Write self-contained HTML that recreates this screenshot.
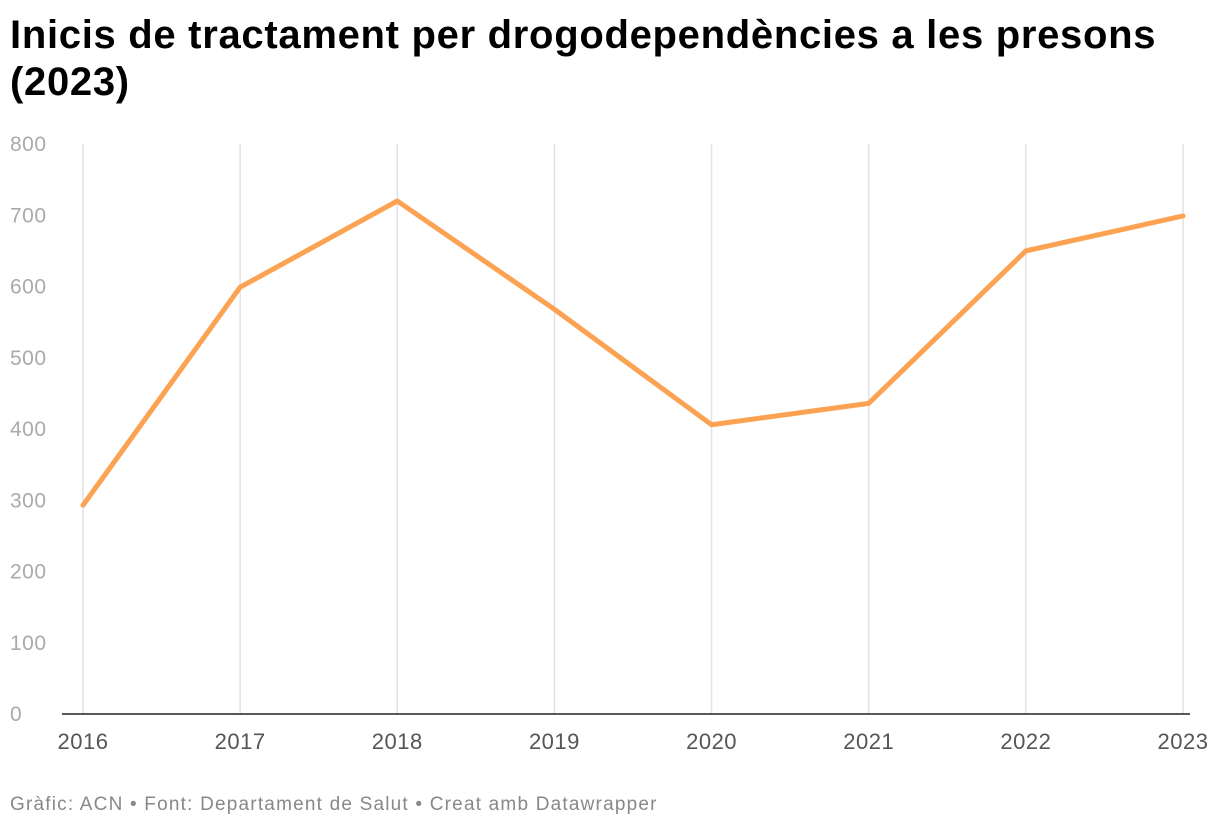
<!DOCTYPE html>
<html><head><meta charset="utf-8"><style>
body{margin:0;background:#fff;width:1220px;height:832px;overflow:hidden;font-family:"Liberation Sans",Arial,sans-serif}
h1{position:absolute;left:10px;top:12px;margin:0;font-size:40px;line-height:47px;font-weight:bold;color:#000;width:1210px;letter-spacing:0.7px}
#foot{position:absolute;left:10px;top:794px;font-size:19px;color:#888;letter-spacing:1.2px}
svg{position:absolute;left:0;top:0}
</style></head><body>
<h1>Inicis de tractament per drogodependències a les presons<br>(2023)</h1>
<svg id="chart" width="1220" height="832"></svg>
<div id="foot">Gràfic: ACN • Font: Departament de Salut • Creat amb Datawrapper</div>
<script>
const years=["2016","2017","2018","2019","2020","2021","2022","2023"];
const values=[293,599,720,568,406,436,650,699];
const yTicks=[0,100,200,300,400,500,600,700,800];
const NS="http://www.w3.org/2000/svg";
const svg=document.getElementById('chart');
const x0=83,x1=1183,yTop=144,yBot=714,yMax=800;
const xs=i=>x0+(x1-x0)*i/(years.length-1);
const ys=v=>yBot-(yBot-yTop)*v/yMax;
function mk(t,a){const e=document.createElementNS(NS,t);for(const k in a)e.setAttribute(k,a[k]);svg.appendChild(e);return e;}
yTicks.forEach(t=>{
  const e=mk('text',{x:10,y:ys(t)+7,'font-size':21,fill:'#aaa','font-family':'Liberation Sans, sans-serif','letter-spacing':0.5});
  e.textContent=t;
  
  
});
years.forEach((y,i)=>{
  const g=mk('line',{x1:xs(i),x2:xs(i),y1:yTop,y2:yBot,stroke:'#e2e2e2','stroke-width':1.5});
  
  
  const t=mk('text',{x:xs(i),y:749,'font-size':22,fill:'#555','text-anchor':'middle','font-family':'Liberation Sans, sans-serif','letter-spacing':0.5});
  t.textContent=y;
  
  
});
const b=mk('line',{x1:62,x2:1190,y1:yBot,y2:yBot,stroke:'#222','stroke-width':1.5});


const p=mk('polyline',{points:values.map((v,i)=>xs(i)+','+ys(v)).join(' '),fill:'none',stroke:'#fca253','stroke-width':5,'stroke-linejoin':'round','stroke-linecap':'round'});


</script>
</body></html>
